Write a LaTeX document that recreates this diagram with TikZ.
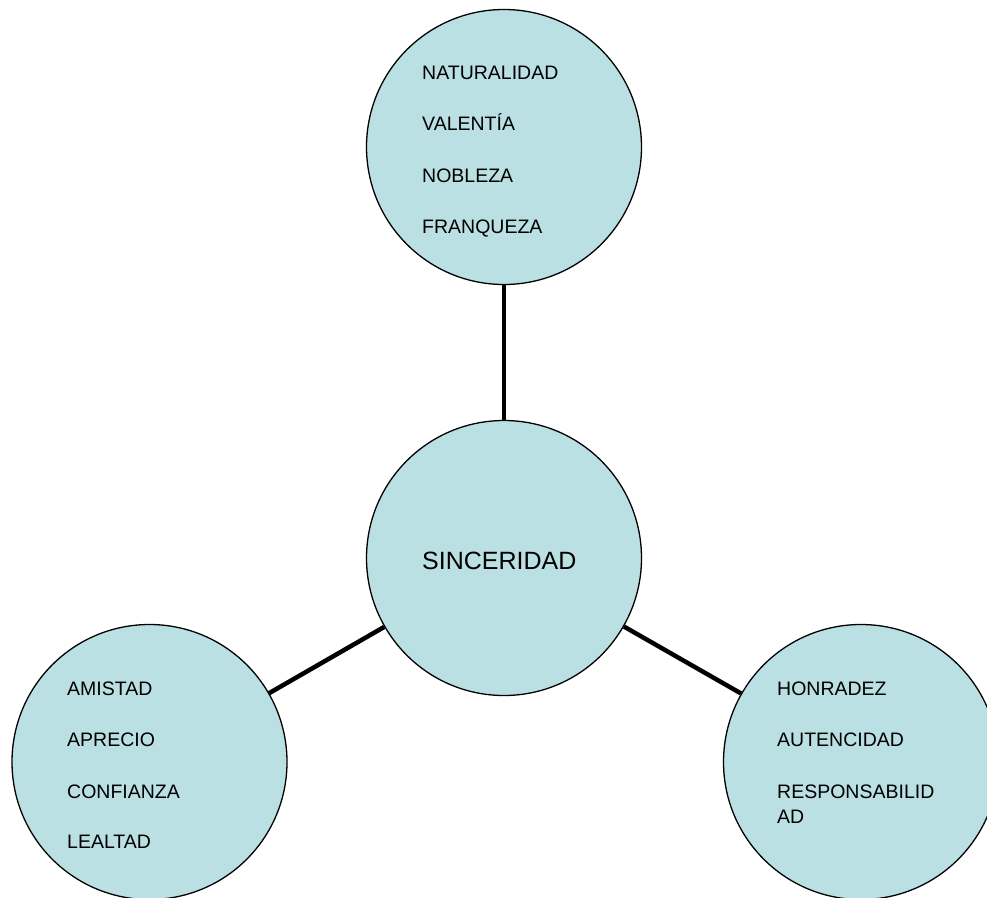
\documentclass[tikz,border=0pt]{standalone}
\usepackage{fontspec}
\setmainfont{Liberation Sans}
\definecolor{bubble}{RGB}{187,224,227}
\begin{document}
\begin{tikzpicture}[x=1pt,y=-1pt,
  bub/.style={circle,draw=black,line width=1.3pt,fill=bubble,minimum size=275pt,inner sep=0pt},
  item/.style={anchor=base west,inner sep=0pt,font=\fontsize{19.5}{23}\selectfont},
  link/.style={line width=4.5pt,black}]
\useasboundingbox (0,0) rectangle (987,897);
\node[bub] (top) at (504,147) {};
\node[bub] (mid) at (504,558) {};
\node[bub] (bl) at (149.5,762) {};
\node[bub] (br) at (861,762) {};
\draw[link] (top) -- (mid);
\draw[link] (mid) -- (bl);
\draw[link] (mid) -- (br);
\node[item] (t1) at (422,79) {NATURALIDAD};
\node[item] (t2) at (422,130) {VALENTÍA};
\node[item] (t3) at (422,182) {NOBLEZA};
\node[item] (t4) at (422,233) {FRANQUEZA};
\node[item,font=\fontsize{25}{30}\selectfont] (m1) at (422,569) {SINCERIDAD};
\node[item] (l1) at (67,695) {AMISTAD};
\node[item] (l2) at (67,746) {APRECIO};
\node[item] (l3) at (67,798) {CONFIANZA};
\node[item] (l4) at (67,848) {LEALTAD};
\node[item] (r1) at (777,695) {HONRADEZ};
\node[item] (r2) at (777,746) {AUTENCIDAD};
\node[item] (r3) at (777,798) {RESPONSABILID};
\node[item] (r4) at (777,823) {AD};
\end{tikzpicture}
\end{document}
